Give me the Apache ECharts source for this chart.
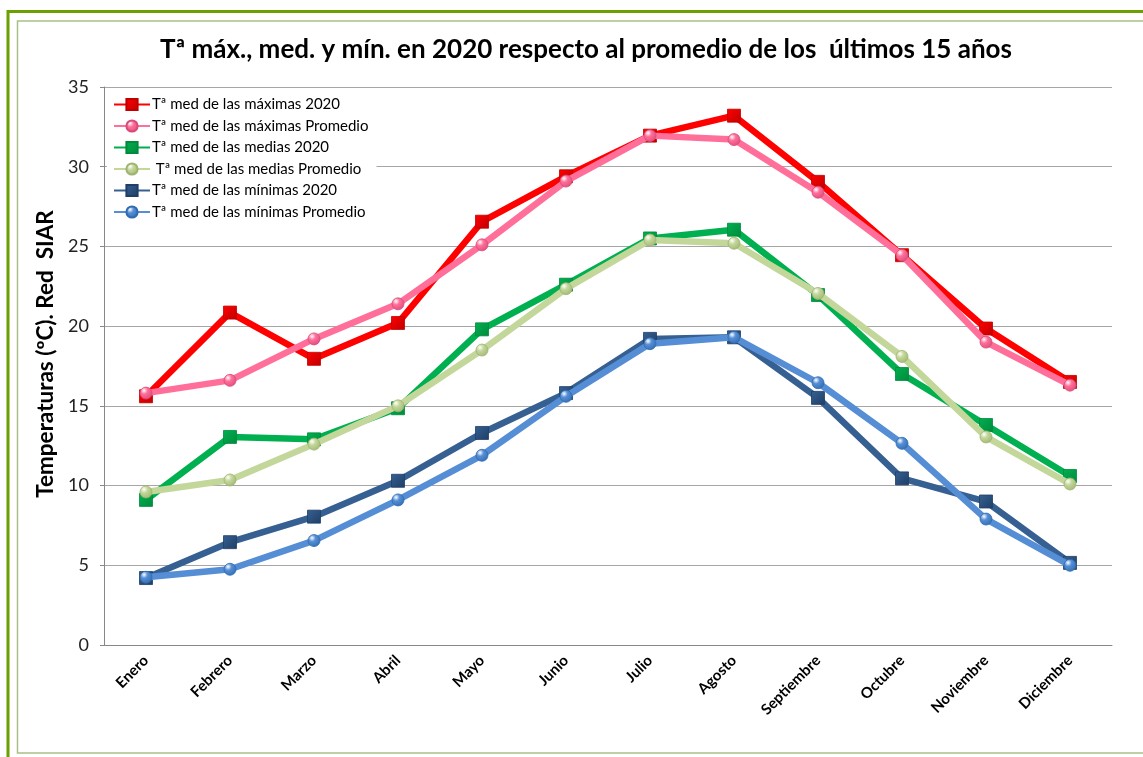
<!DOCTYPE html>
<html>
<head>
<meta charset="utf-8">
<script src="https://cdn.jsdelivr.net/npm/echarts@6/dist/echarts.min.js"></script>
<style>html,body{margin:0;padding:0;background:#fff}#c{width:1143px;height:757px}</style>
</head>
<body>
<div id="c"></div>
<script>
const categories = ['Enero','Febrero','Marzo','Abril','Mayo','Junio','Julio','Agosto','Septiembre','Octubre','Noviembre','Diciembre'];
const maxima2020   = [15.6, 20.85, 17.95, 20.2, 26.55, 29.4, 31.95, 33.2, 29.05, 24.45, 19.85, 16.5];
const maximaProm   = [15.8, 16.6, 19.2, 21.4, 25.1, 29.1, 31.95, 31.7, 28.4, 24.45, 19.0, 16.3];
const medias2020   = [9.1, 13.05, 12.9, 14.85, 19.8, 22.6, 25.5, 26.05, 21.95, 17.0, 13.8, 10.6];
const mediasProm   = [9.6, 10.35, 12.6, 15.0, 18.5, 22.35, 25.4, 25.2, 22.05, 18.1, 13.05, 10.1];
const minimas2020  = [4.2, 6.45, 8.05, 10.3, 13.3, 15.8, 19.2, 19.3, 15.5, 10.45, 9.0, 5.15];
const minimasProm  = [4.25, 4.75, 6.55, 9.1, 11.9, 15.6, 18.9, 19.3, 16.45, 12.65, 7.9, 5.0];
const yTicks = [0, 5, 10, 15, 20, 25, 30, 35];

const names = ['Tª med de las máximas 2020','Tª med de las máximas Promedio','Tª med de las medias 2020',' Tª med de las medias Promedio','Tª med de las mínimas 2020','Tª med de las mínimas Promedio'];
const colors = ['#ff0000','#ff6f9a','#00b050','#c4d79b','#366092','#558ed5'];
const dark = ['#c00000','#d94a7a','#008a3c','#9fb470','#1f3f66','#2f6bb0'];
const datas = [maxima2020, maximaProm, medias2020, mediasProm, minimas2020, minimasProm];
const isSquare = [true,false,true,false,true,false];
const FONT = 'Lato';

function fillFor(i){
  if (isSquare[i]) {
    return new echarts.graphic.LinearGradient(0,0,1,1,[{offset:0,color:colors[i]},{offset:1,color:dark[i]}]);
  }
  return new echarts.graphic.RadialGradient(0.35,0.3,0.8,[{offset:0,color:'#ffffff'},{offset:0.35,color:colors[i]},{offset:1,color:dark[i]}]);
}

const series = datas.map((d,i)=>({
  name: names[i],
  type: 'line',
  data: d,
  symbol: isSquare[i] ? 'rect' : 'circle',
  symbolSize: isSquare[i] ? 13 : 12,
  lineStyle: {color: colors[i], width: 6.5},
  itemStyle: {color: fillFor(i), borderColor: dark[i], borderWidth: 0.8},
  emphasis: {disabled: true},
  animation: false,
  z: 2 + i
}));

const chart = echarts.init(document.getElementById('c'), null, {renderer:'canvas'});
chart.setOption({
  animation: false,
  color: colors,
  title: {
    text: 'Tª máx., med. y mín. en 2020 respecto al promedio de los  últimos 15 años',
    left: 581, top: 32, textAlign: 'center',
    textStyle: {fontFamily: FONT, fontWeight: 'bold', fontSize: 26, color: '#000'}
  },
  graphic: [
    {type:'rect', shape:{x:8, y:11.5, width:1200, height:800}, style:{fill:'none', stroke:'#6aa000', lineWidth:3}, silent:true, z:0},
    {type:'rect', shape:{x:17.5, y:21, width:1200, height:732}, style:{fill:'none', stroke:'#a9bf88', lineWidth:1.5}, silent:true, z:0}
  ],
  legend: {
    orient: 'vertical', left: 107, top: 91,
    itemWidth: 36, itemHeight: 14, itemGap: 6.5,
    padding: [6, 8, 6, 6],
    backgroundColor: '#ffffff',
    textStyle: {fontFamily: FONT, fontSize: 15, lineHeight: 14, color: '#000', padding: [0,0,0,-3]},
    data: names.map((n,i)=>({name:n, itemStyle:{color: fillFor(i)}}))
  },
  grid: {left: 104, right: 31, top: 87, bottom: 112, containLabel: false},
  xAxis: {
    type: 'category', data: categories, boundaryGap: true,
    axisLine: {show: true, lineStyle: {color: '#888', width: 1}},
    axisTick: {show: false},
    axisLabel: {rotate: 45, margin: 13, fontFamily: FONT, fontSize: 15, fontWeight: 'bold', color: '#000', interval: 0}
  },
  yAxis: {
    type: 'value', min: 0, max: 35, interval: 5,
    name: 'Temperaturas (ºC). Red  SIAR', nameLocation: 'middle', nameRotate: 90, nameGap: 30,
    nameTextStyle: {fontFamily: FONT, fontWeight: 'bold', fontSize: 22.5, color: '#000', padding: [0,0,0,24]},
    axisLine: {show: true, lineStyle: {color: '#888', width: 1}},
    axisTick: {show: true, length: 4, lineStyle: {color: '#888'}},
    axisLabel: {fontFamily: FONT, fontSize: 18, color: '#222', margin: 15,
      formatter: v => yTicks.includes(v) ? String(v) : ''},
    splitLine: {show: true, lineStyle: {color: '#a6a6a6', width: 1}}
  },
  series: series
});
</script>
</body>
</html>
